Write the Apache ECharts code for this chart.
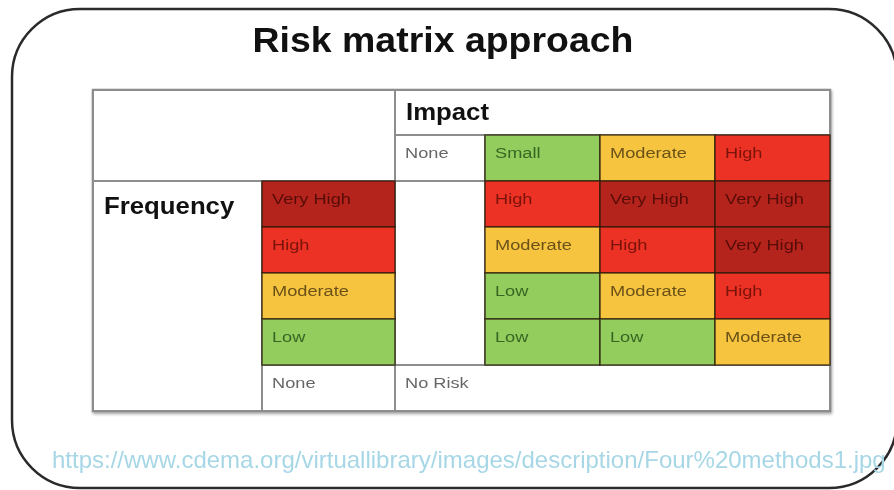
<!DOCTYPE html>
<html>
<head>
<meta charset="utf-8">
<script src="https://cdn.jsdelivr.net/npm/echarts@6/dist/echarts.min.js"></script>
<style>
  html, body { margin: 0; padding: 0; background: #ffffff; }
  #chart { width: 894px; height: 490px; }
</style>
</head>
<body>
<div id="chart"></div>
<script>
// ---------------- DATA ----------------
const chartTitle = 'Risk matrix approach';
const impactTitle = 'Impact';
const frequencyTitle = 'Frequency';
const impactLevels = ['None', 'Small', 'Moderate', 'High'];
const frequencyLevels = ['Very High', 'High', 'Moderate', 'Low', 'None'];
// rows: frequency Very High, High, Moderate, Low ; cols: impact Small, Moderate, High
const riskVeryHigh = ['High', 'Very High', 'Very High'];
const riskHigh = ['Moderate', 'High', 'Very High'];
const riskModerate = ['Low', 'Moderate', 'High'];
const riskLow = ['Low', 'Low', 'Moderate'];
const noRiskLabel = 'No Risk';
const sourceText = 'https://www.cdema.org/virtuallibrary/images/description/Four%20methods1.jpg';

// ---------------- LAYOUT / STYLE ----------------
const colWidths = [169, 133, 90, 115, 115, 115];
const rowHeights = [45, 46, 46, 46, 46, 46, 46];
const colEdges = [0]; colWidths.forEach(w => colEdges.push(colEdges[colEdges.length - 1] + w));
const rowEdges = [0]; rowHeights.forEach(h => rowEdges.push(rowEdges[rowEdges.length - 1] + h));

const levelFill = {
  'Very High': '#b5241c',
  'High': '#ec3224',
  'Moderate': '#f7c440',
  'Low': '#92cd5e',
  'Small': '#92cd5e',
  'None': '#ffffff',
  'No Risk': '#ffffff'
};
const levelText = {
  'Very High': '#4d0a06',
  'High': '#6e0f08',
  'Moderate': '#5a4514',
  'Low': '#2f5a1c',
  'Small': '#2f5a1c',
  'None': '#555555',
  'No Risk': '#555555'
};
const FONT = '"Liberation Sans", Arial, sans-serif';

// ---------------- BUILD CELLS ----------------
const cells = [];
cells.push({ v: [0, 2, 0, 2], text: '', kind: 'blank' });
cells.push({ v: [2, 6, 0, 1], text: impactTitle, kind: 'head' });
impactLevels.forEach((lv, i) => cells.push({ v: [2 + i, 3 + i, 1, 2], text: lv, kind: 'level', level: lv }));
cells.push({ v: [0, 1, 2, 7], text: frequencyTitle, kind: 'head' });
frequencyLevels.forEach((lv, j) => cells.push({ v: [1, 2, 2 + j, 3 + j], text: lv, kind: 'level', level: lv }));
cells.push({ v: [2, 3, 2, 6], text: '', kind: 'blank' });
cells.push({ v: [2, 6, 6, 7], text: noRiskLabel, kind: 'level', level: 'No Risk' });
[riskVeryHigh, riskHigh, riskModerate, riskLow].forEach((row, j) => {
  row.forEach((lv, i) => cells.push({ v: [3 + i, 4 + i, 2 + j, 3 + j], text: lv, kind: 'level', level: lv }));
});
function isWhiteCell(c) { return c.kind !== 'level' || levelFill[c.level] === '#ffffff'; }
cells.sort((a, b) => (isWhiteCell(a) ? 0 : 1) - (isWhiteCell(b) ? 0 : 1));

const chart = echarts.init(document.getElementById('chart'), null, { renderer: 'canvas' });

function renderItem(params, api) {
  const cell = cells[params.dataIndex];
  const c0 = api.value(0), c1 = api.value(1), r0 = api.value(2), r1 = api.value(3);
  const p0 = api.coord([colEdges[c0], rowEdges[r0]]);
  const p1 = api.coord([colEdges[c1], rowEdges[r1]]);
  const x = p0[0], y = p0[1], w = p1[0] - p0[0], h = p1[1] - p0[1];
  const white = isWhiteCell(cell);
  const children = [{
    type: 'rect',
    shape: { x: x, y: y, width: w, height: h },
    style: {
      fill: white ? '#ffffff' : levelFill[cell.level],
      stroke: white ? '#8d8d8d' : 'rgba(40,25,10,0.75)',
      lineWidth: white ? 2 : 1.6
    }
  }];
  if (cell.text) {
    if (cell.kind === 'head') {
      children.push({
        type: 'text', x: x + 11, y: y + (cell.text === frequencyTitle ? 27 : 24), scaleX: 1.12, scaleY: 1,
        style: { text: cell.text, fill: '#111111', font: 'bold 23px ' + FONT, align: 'left', verticalAlign: 'middle' }
      });
    } else {
      children.push({
        type: 'text', x: x + 10, y: y + 19, scaleX: 1.3, scaleY: 1,
        style: { text: cell.text, fill: levelText[cell.level], font: '14px ' + FONT, align: 'left', verticalAlign: 'middle', opacity: 0.9 }
      });
    }
  }
  return { type: 'group', children: children };
}

const option = {
  backgroundColor: '#ffffff',
  animation: false,
  graphic: [
    {
      type: 'rect', z: -10,
      shape: { x: 12, y: 9, width: 885, height: 479, r: 68 },
      style: { fill: '#ffffff', stroke: '#2a2a2a', lineWidth: 2.5 }
    },
    {
      type: 'text', z: 10, x: 443, y: 42, scaleX: 1.07,
      style: { text: chartTitle, font: 'bold 35px ' + FONT, fill: '#111111', align: 'center', verticalAlign: 'middle' }
    },
    {
      type: 'text', z: 10, x: 52, y: 461,
      style: { text: sourceText, font: '24px ' + FONT, fill: '#a7d7e6', align: 'left', verticalAlign: 'middle' }
    }
  ],
  grid: {
    left: 93, top: 90, width: colEdges[colEdges.length - 1], height: rowEdges[rowEdges.length - 1],
    show: true, borderColor: '#8a8a8a', borderWidth: 2.5, backgroundColor: '#ffffff',
    shadowColor: 'rgba(0,0,0,0.25)', shadowBlur: 3, shadowOffsetX: 1, shadowOffsetY: 2
  },
  xAxis: { type: 'value', min: 0, max: colEdges[colEdges.length - 1], show: false },
  yAxis: { type: 'value', min: 0, max: rowEdges[rowEdges.length - 1], inverse: true, show: false },
  series: [{
    type: 'custom',
    renderItem: renderItem,
    data: cells.map(c => c.v),
    silent: true
  }]
};
chart.setOption(option);
</script>
</body>
</html>
